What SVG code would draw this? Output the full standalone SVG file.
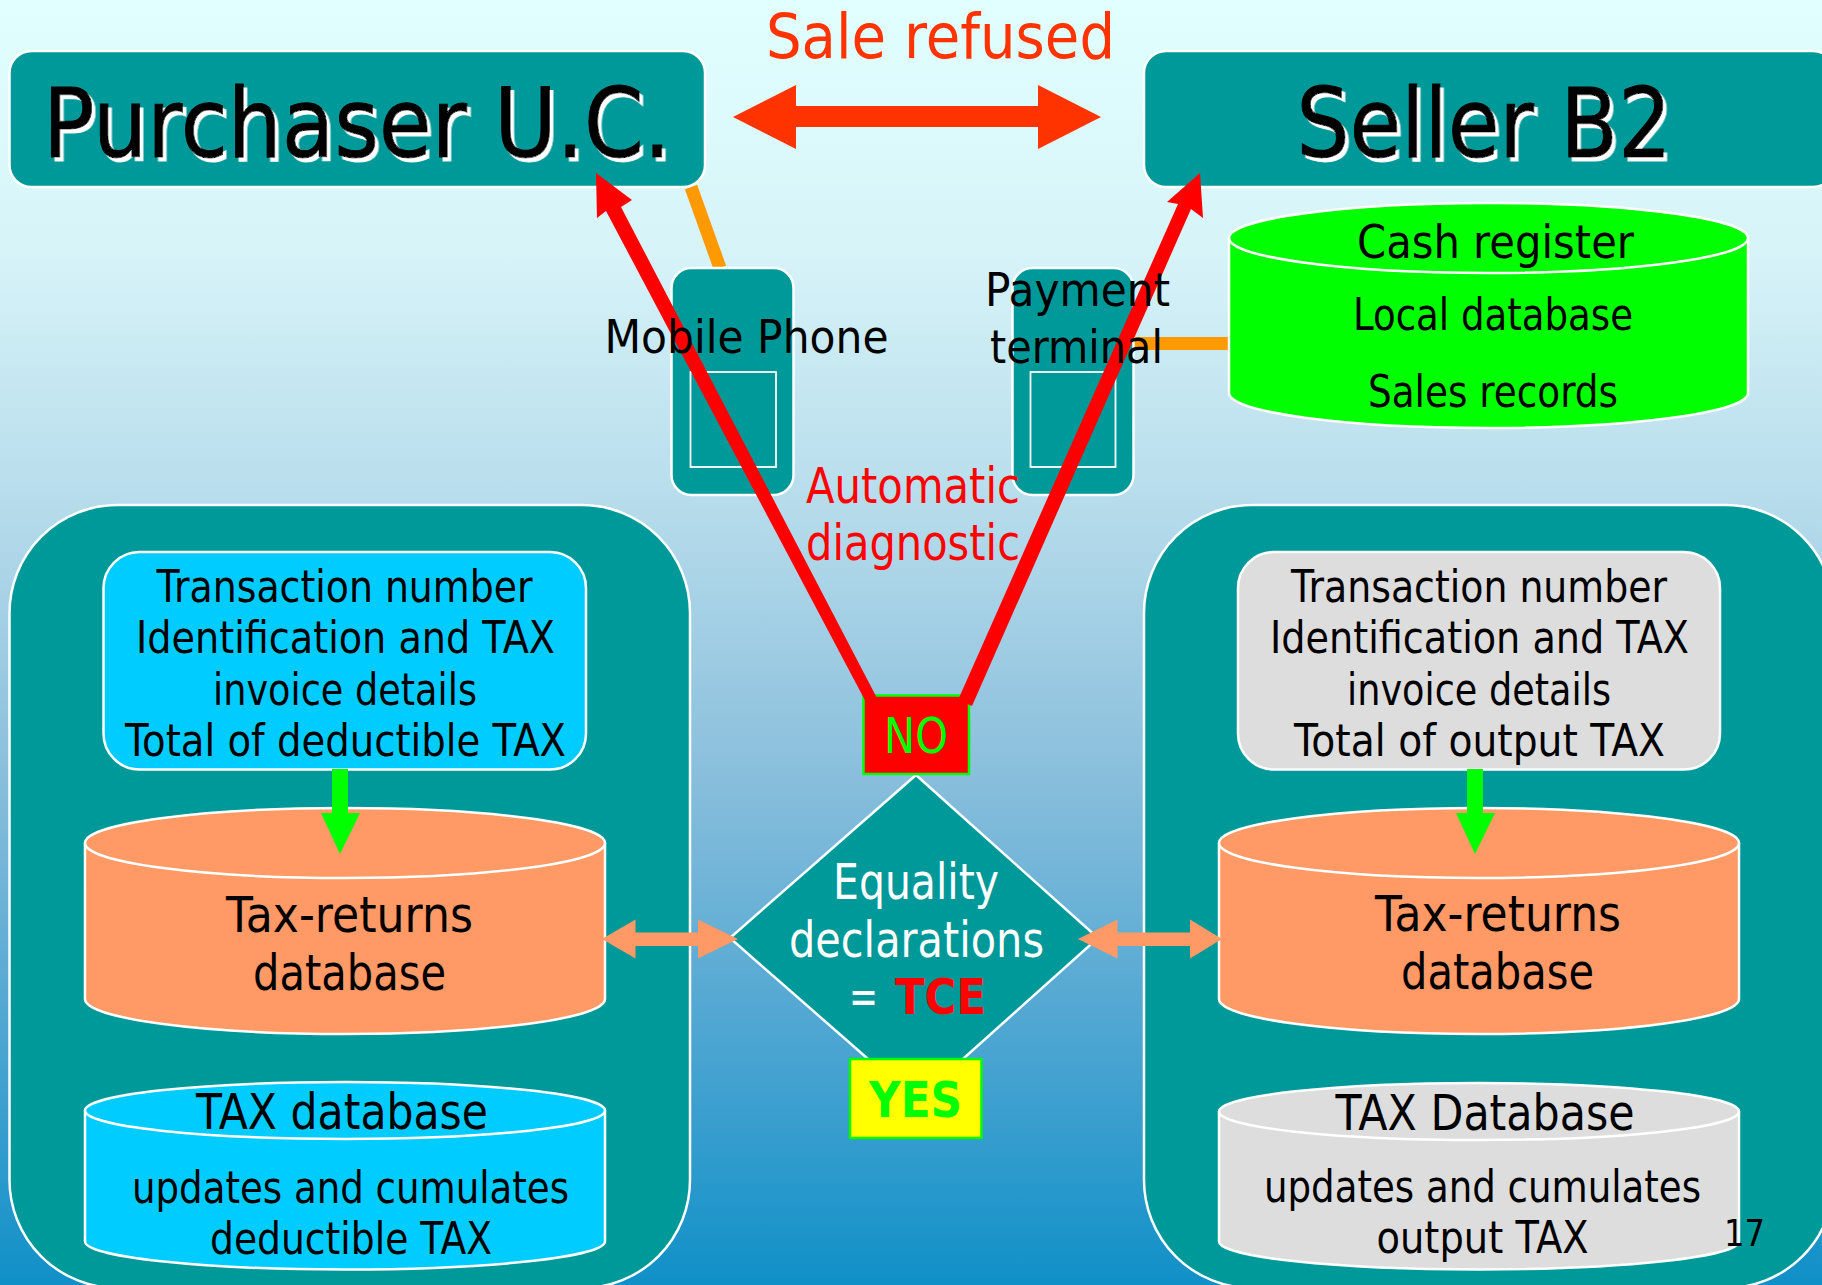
<svg xmlns="http://www.w3.org/2000/svg" width="1822" height="1285" viewBox="0 0 1822 1285">
<style>
text{font-family:"DejaVu Sans","Liberation Sans",sans-serif;fill:#000}
.box{fill:#009999;stroke:#fff;stroke-width:2.5}
.cyl{stroke:#fff;stroke-width:2.5}
.cap{fill:none;stroke:#fff;stroke-width:2.5}
.f44{font-size:45px}.f48{font-size:49px}
.big{font-size:97px;filter:url(#sh);stroke:#000;stroke-width:1px}
</style>
<defs>
<linearGradient id="bg" x1="0" y1="0" x2="0" y2="1">
<stop offset="0" stop-color="#e2ffff"/><stop offset=".2" stop-color="#d6f3f8"/><stop offset=".4" stop-color="#b5dbeb"/><stop offset=".6" stop-color="#8abfdc"/><stop offset=".8" stop-color="#4fa6d2"/><stop offset="1" stop-color="#1090c8"/>
</linearGradient>
<filter id="sh" x="-5%" y="-10%" width="110%" height="120%"><feDropShadow dx="3.5" dy="4" stdDeviation="0" flood-color="#fff"/></filter>
</defs>
<rect width="1822" height="1285" fill="url(#bg)"/>

<g id="links">
<path d="M691 187L720 268" stroke="#f90" stroke-width="13" fill="none"/>
<path d="M1133 343.500H1230" stroke="#f90" stroke-width="13" fill="none"/>
</g>

<g id="purchaser"><rect class="box" x="9.500" y="51" width="695.500" height="136" rx="22"/>
<text class="big" x="43" y="157" textLength="628" lengthAdjust="spacingAndGlyphs">Purchaser U.C.</text></g>
<g id="seller"><rect class="box" x="1144" y="51" width="691" height="136" rx="22"/>
<text class="big" x="1296.500" y="157" textLength="375" lengthAdjust="spacingAndGlyphs">Seller B2</text></g>

<g id="sale-refused"><text x="766" y="58" font-size="62" style="fill:#f30" textLength="349" lengthAdjust="spacingAndGlyphs">Sale refused</text></g>

<g id="phone"><rect class="box" x="671.500" y="268" width="122" height="227" rx="20"/><rect x="690.500" y="372" width="85.500" height="95" fill="none" stroke="#fff" stroke-width="1.800"/></g>
<g id="terminal"><rect class="box" x="1012.500" y="268" width="121" height="227" rx="20"/><rect x="1030.500" y="372" width="85" height="95" fill="none" stroke="#fff" stroke-width="1.800"/></g>

<g id="cash-register">
<path class="cyl" fill="#0f0" d="M1229 238A259.500 35 0 0 1 1748 238V393A259.500 35 0 0 1 1229 393Z"/>
<path class="cap" d="M1229 238A259.500 35 0 0 0 1748 238"/>
<text x="1357" y="258" font-size="47" textLength="277" lengthAdjust="spacingAndGlyphs">Cash register</text>
<text x="1353" y="330" font-size="44" textLength="280" lengthAdjust="spacingAndGlyphs">Local database</text>
<text x="1368" y="407" font-size="44" textLength="250" lengthAdjust="spacingAndGlyphs">Sales records</text>
</g>

<g id="purchaser-panel"><rect class="box" x="9.500" y="505" width="680.500" height="783" rx="108"/></g>
<g id="seller-panel"><rect class="box" x="1144" y="505" width="690" height="783" rx="108"/></g>

<g id="purchaser-details"><rect x="103.500" y="552" width="482.500" height="217.500" rx="36" fill="#0cf" stroke="#fff" stroke-width="2.500"/>
<text class="f44" x="156.500" y="602" textLength="376" lengthAdjust="spacingAndGlyphs">Transaction number</text>
<text class="f44" x="136" y="653" textLength="419" lengthAdjust="spacingAndGlyphs">Identification and TAX</text>
<text class="f44" x="213" y="705" textLength="264" lengthAdjust="spacingAndGlyphs">invoice details</text>
<text class="f44" x="125" y="756" textLength="441" lengthAdjust="spacingAndGlyphs">Total of deductible TAX</text></g>

<g id="seller-details"><rect x="1238" y="552" width="482" height="217.500" rx="36" fill="#ddd" stroke="#fff" stroke-width="2.500"/>
<text class="f44" x="1291" y="602" textLength="376" lengthAdjust="spacingAndGlyphs">Transaction number</text>
<text class="f44" x="1270" y="653" textLength="419" lengthAdjust="spacingAndGlyphs">Identification and TAX</text>
<text class="f44" x="1347" y="705" textLength="264" lengthAdjust="spacingAndGlyphs">invoice details</text>
<text class="f44" x="1294" y="756" textLength="371" lengthAdjust="spacingAndGlyphs">Total of output TAX</text></g>

<g id="purchaser-returns">
<path class="cyl" fill="#f96" d="M85 843A260 35 0 0 1 605 843V999A260 35 0 0 1 85 999Z"/>
<path class="cap" d="M85 843A260 35 0 0 0 605 843"/>
<text class="f48" x="226" y="932" textLength="247" lengthAdjust="spacingAndGlyphs">Tax-returns</text>
<text class="f48" x="253" y="990" textLength="193" lengthAdjust="spacingAndGlyphs">database</text></g>
<g id="seller-returns">
<path class="cyl" fill="#f96" d="M1219 843A260 35 0 0 1 1739 843V999A260 35 0 0 1 1219 999Z"/>
<path class="cap" d="M1219 843A260 35 0 0 0 1739 843"/>
<text class="f48" x="1375" y="931" textLength="246" lengthAdjust="spacingAndGlyphs">Tax-returns</text>
<text class="f48" x="1401" y="989" textLength="193" lengthAdjust="spacingAndGlyphs">database</text></g>

<g id="purchaser-tax">
<path class="cyl" fill="#0cf" d="M85 1110.500A260 28.500 0 0 1 605 1110.500V1241.500A260 28 0 0 1 85 1241.500Z"/>
<path class="cap" d="M85 1110.500A260 28.500 0 0 0 605 1110.500"/>
<text class="f48" x="196" y="1129" textLength="292" lengthAdjust="spacingAndGlyphs">TAX database</text>
<text class="f44" x="132" y="1202.500" textLength="437" lengthAdjust="spacingAndGlyphs">updates and cumulates</text>
<text class="f44" x="210" y="1253.500" textLength="282" lengthAdjust="spacingAndGlyphs">deductible TAX</text></g>
<g id="seller-tax">
<path class="cyl" fill="#ddd" d="M1219 1111.500A260 28.500 0 0 1 1739 1111.500V1241.500A260 28 0 0 1 1219 1241.500Z"/>
<path class="cap" d="M1219 1111.500A260 28.500 0 0 0 1739 1111.500"/>
<text class="f48" x="1335.500" y="1130" textLength="299" lengthAdjust="spacingAndGlyphs">TAX Database</text>
<text class="f44" x="1264" y="1202" textLength="437" lengthAdjust="spacingAndGlyphs">updates and cumulates</text>
<text class="f44" x="1376.500" y="1252.500" textLength="212" lengthAdjust="spacingAndGlyphs">output TAX</text></g>

<g id="decision"><path class="box" d="M916 775L1098 938L916 1101L730 938Z" stroke-width="2"/>
<text x="833" y="899" font-size="50" style="fill:#fff" textLength="166" lengthAdjust="spacingAndGlyphs">Equality</text>
<text x="789" y="956.500" font-size="50" style="fill:#fff" textLength="255" lengthAdjust="spacingAndGlyphs">declarations</text>
<text y="1014" font-size="50" style="fill:#fff"><tspan x="849" textLength="29" lengthAdjust="spacingAndGlyphs">=</tspan> <tspan x="895" font-weight="700" style="fill:#f00" textLength="91" lengthAdjust="spacingAndGlyphs">TCE</tspan></text></g>

<g id="no"><rect x="863.500" y="695.500" width="105.500" height="78.500" fill="#f00" stroke="#0f0" stroke-width="2.500"/>
<text x="884" y="753" font-size="49" style="fill:#0f0" textLength="64" lengthAdjust="spacingAndGlyphs">NO</text></g>
<g id="yes"><rect x="850" y="1059" width="131.500" height="79" fill="#ff0" stroke="#0f0" stroke-width="2.500"/>
<text x="869" y="1117" font-size="49" font-weight="700" style="fill:#0f0" textLength="93" lengthAdjust="spacingAndGlyphs">YES</text></g>

<g id="connectors">
<path fill="#f30" d="M733 117L796 85V106H1038V85L1101 117L1038 149V127H796V149Z"/>
<path fill="#f00" d="M596 173L632 200L621 207L878 700L868 706L606 211L597 218Z"/>
<path fill="#f00" d="M1200 173L1203 218L1191 209L972 706L958 700L1178 204L1167 202Z"/>
<path fill="#0f0" d="M332 769H348V813H360L340 854L321 813H332Z"/>
<path fill="#0f0" d="M1467 769H1483V813H1495L1475 854L1456 813H1467Z"/>
<path fill="#f96" d="M602 939L635.500 919.500V932.500H698V919.500L738 939L698 958.500V946H635.500V958.500Z"/>
<path fill="#f96" d="M1078 939L1117.500 919.500V932.500H1190V919.500L1222 939L1190 958.500V946H1117.500V958.500Z"/>
</g>

<g id="labels">
<text x="604.500" y="353" font-size="47" textLength="284" lengthAdjust="spacingAndGlyphs">Mobile Phone</text>
<text x="985" y="306" font-size="47" textLength="185" lengthAdjust="spacingAndGlyphs">Payment</text>
<text x="990" y="363" font-size="47" textLength="173" lengthAdjust="spacingAndGlyphs">terminal</text>
<text x="806" y="502.500" font-size="49" style="fill:#f00" textLength="214" lengthAdjust="spacingAndGlyphs">Automatic</text>
<text x="806" y="560" font-size="49" style="fill:#f00" textLength="214" lengthAdjust="spacingAndGlyphs">diagnostic</text>
<text x="1724" y="1246" font-size="38" textLength="41" lengthAdjust="spacingAndGlyphs">17</text>
</g>
</svg>
